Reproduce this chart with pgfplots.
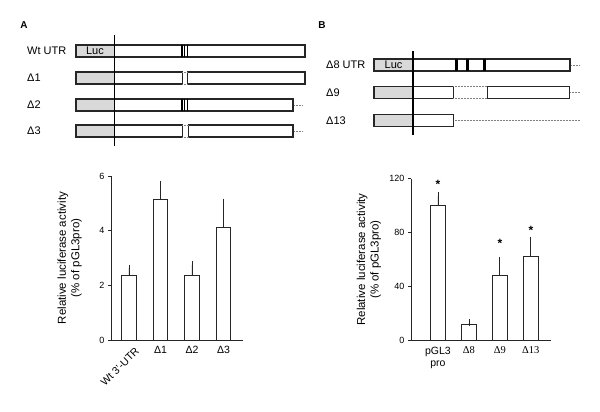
\documentclass[border=0pt]{standalone}
\usepackage{pgfplots}
\usepackage{pgfplotstable}
\pgfplotsset{compat=1.18}
\usepackage{fontspec}
\setmainfont{Liberation Sans}
\newfontfamily\tnr{Liberation Serif}

\pgfplotstableread{
x y e
0 2.35 0.28
1 5.15 0.55
2 2.37 0.38
3 4.12 0.92
}\dataA

\pgfplotstableread{
x y e
0 100.5 7.0
1 11.5 1.5
2 48.3 11.1
3 62.0 12.3
}\dataB

\pgfplotstableread{
x y
0 118.9
2 75.1
3 85.0
}\starsB

\pgfplotsset{
  barpanel/.style={
    scale only axis, anchor=south west, clip=false,
    ymin=0,
    axis x line*=bottom, axis y line*=left,
    axis line style={-, black!85, line width=0.8pt},
    tick align=outside, major tick length=3pt,
    y tick style={black!85, line width=0.8pt},
    x tick style={draw=none},
    yticklabel style={font=\fontsize{9}{10}\selectfont},
    xticklabel style={font=\fontsize{10.5}{12}\selectfont},
    /pgf/number format/assume math mode=true,
    ylabel style={font=\fontsize{11.5}{13.5}\selectfont, align=center, anchor=center},
  },
  bars/.style={
    ybar, bar width=14.5pt, fill=white, draw=black!85, line width=0.8pt,
    error bars/.cd, y dir=plus, y explicit,
    error bar style={black!85, line width=0.8pt},
    error mark options={black!85, mark size=3.5pt, line width=0.8pt},
  },
}

\begin{document}
\begin{tikzpicture}[x=1pt, y=1pt]
\useasboundingbox (0,0) rectangle (600,412);

% schematics, drawn in pixel coordinates (y down)
\begin{scope}[shift={(0,412)}, y=-1pt,
    box/.style={draw=black!85, line width=1.5pt},
    dots/.style={draw=gray, densely dotted, line width=0.5pt},
    lbl/.style={anchor=west, inner sep=0pt, font=\fontsize{11}{13}\selectfont}]
  % panel A
  \node[font=\bfseries\fontsize{10}{12}\selectfont] at (24,25) {A};
  % Wt UTR
  \filldraw[box, fill=black!15] (76,45) rectangle (114.5,57);
  \node[font=\fontsize{11}{13}\selectfont] at (95,51) {Luc};
  \draw[box] (114.5,45) rectangle (305,57);
  \foreach \m in {182,184.8,187.4} \draw[line width=1.1pt] (\m,45) -- (\m,57);
  \node[lbl] at (27,51) {Wt UTR};
  % D1
  \filldraw[box, fill=black!15] (76,72) rectangle (114.5,84);
  \draw[box] (114.5,72) rectangle (182.3,84);
  \draw[box] (187.7,72) rectangle (305,84);
  \draw[dots] (182.3,72) -- (187.7,72) (182.3,84) -- (187.7,84);
  \node[lbl] at (27,78) {Δ1};
  % D2
  \filldraw[box, fill=black!15] (76,99) rectangle (114.5,111);
  \draw[box] (114.5,99) rectangle (293,111);
  \foreach \m in {182,184.8,187.4} \draw[line width=1.1pt] (\m,99) -- (\m,111);
  \draw[dots] (294,105) -- (303,105);
  \node[lbl] at (27,105) {Δ2};
  % D3
  \filldraw[box, fill=black!15] (76,125) rectangle (114.5,137);
  \draw[box] (114.5,125) rectangle (182.3,137);
  \draw[box] (188.7,125) rectangle (293,137);
  \draw[dots] (182.3,125) -- (188.7,125) (182.3,137) -- (188.7,137);
  \draw[dots] (294,131) -- (303,131);
  \node[lbl] at (27,131) {Δ3};
  \draw[line width=1.8pt] (114.5,35) -- (114.5,146);

  % panel B
  \node[font=\bfseries\fontsize{10}{12}\selectfont] at (322,25) {B};
  % D8 UTR
  \filldraw[box, fill=black!15] (374,59) rectangle (413,71);
  \node[font=\fontsize{11}{13}\selectfont] at (393.5,65) {Luc};
  \draw[box] (413,59) rectangle (570,71);
  \foreach \m in {456.3,467.8,484.2} \fill[black] (\m-1.6,59) rectangle (\m+1.6,71);
  \draw[dots] (571,65) -- (580,65);
  \node[lbl] at (326,65) {Δ8 UTR};
  % D9
  \filldraw[box, fill=black!15] (374,86.5) rectangle (413,98.5);
  \draw[box] (413,86.5) rectangle (453.3,98.5);
  \draw[box] (487.7,86.5) rectangle (569.3,98.5);
  \draw[dots] (453.3,86.5) -- (487.7,86.5) (453.3,98.5) -- (487.7,98.5);
  \draw[dots] (570,92.5) -- (580,92.5);
  \node[lbl] at (326,92.5) {Δ9};
  % D13
  \filldraw[box, fill=black!15] (374,114.5) rectangle (413,126.5);
  \draw[box] (413,114.5) rectangle (453.7,126.5);
  \draw[dots] (454.5,120.5) -- (580,120.5);
  \node[lbl] at (326,120.5) {Δ13};
  \draw[line width=1.8pt] (413,51) -- (413,135);
\end{scope}

% bar chart A
\begin{axis}[barpanel,
    at={(111pt,72pt)}, width=132pt, height=164pt,
    xmin=-0.57, xmax=3.62, ymax=6,
    ytick={0,2,4,6},
    xtick={1,2,3}, xticklabels={Δ1,Δ2,Δ3},
    extra x ticks={0}, extra x tick labels={Wt 3'-UTR},
    extra x tick style={xticklabel style={rotate=45, anchor=north east,
      xshift=5pt, yshift=-3pt}},
    ylabel={Relative luciferase activity\\(\% of pGL3pro)},
    ylabel style={at={(axis description cs:-0.314,0.5)}},
  ]
  \addplot[bars] table[x=x, y=y, y error=e] {\dataA};
\end{axis}

% bar chart B
\begin{axis}[barpanel,
    at={(411pt,71.7pt)}, width=140pt, height=161.6pt,
    xmin=-0.87, xmax=3.65, ymax=120,
    ytick={0,40,80,120},
    xtick={0,1,2,3},
    xticklabels={{pGL3\\pro},{\tnr Δ8},{\tnr Δ9},{\tnr Δ13}},
    xticklabel style={align=center},
    ylabel={Relative luciferase activity\\(\% of pGL3pro)},
    ylabel style={at={(axis description cs:-0.3,0.5)}},
  ]
  \addplot[bars] table[x=x, y=y, y error=e] {\dataB};
  \addplot[draw=none, mark=none, nodes near coords={*},
    every node near coord/.append style={anchor=north, inner sep=0pt,
      font=\bfseries\fontsize{12}{12}\selectfont}]
    table[x=x, y=y] {\starsB};
\end{axis}
\end{tikzpicture}
\end{document}
